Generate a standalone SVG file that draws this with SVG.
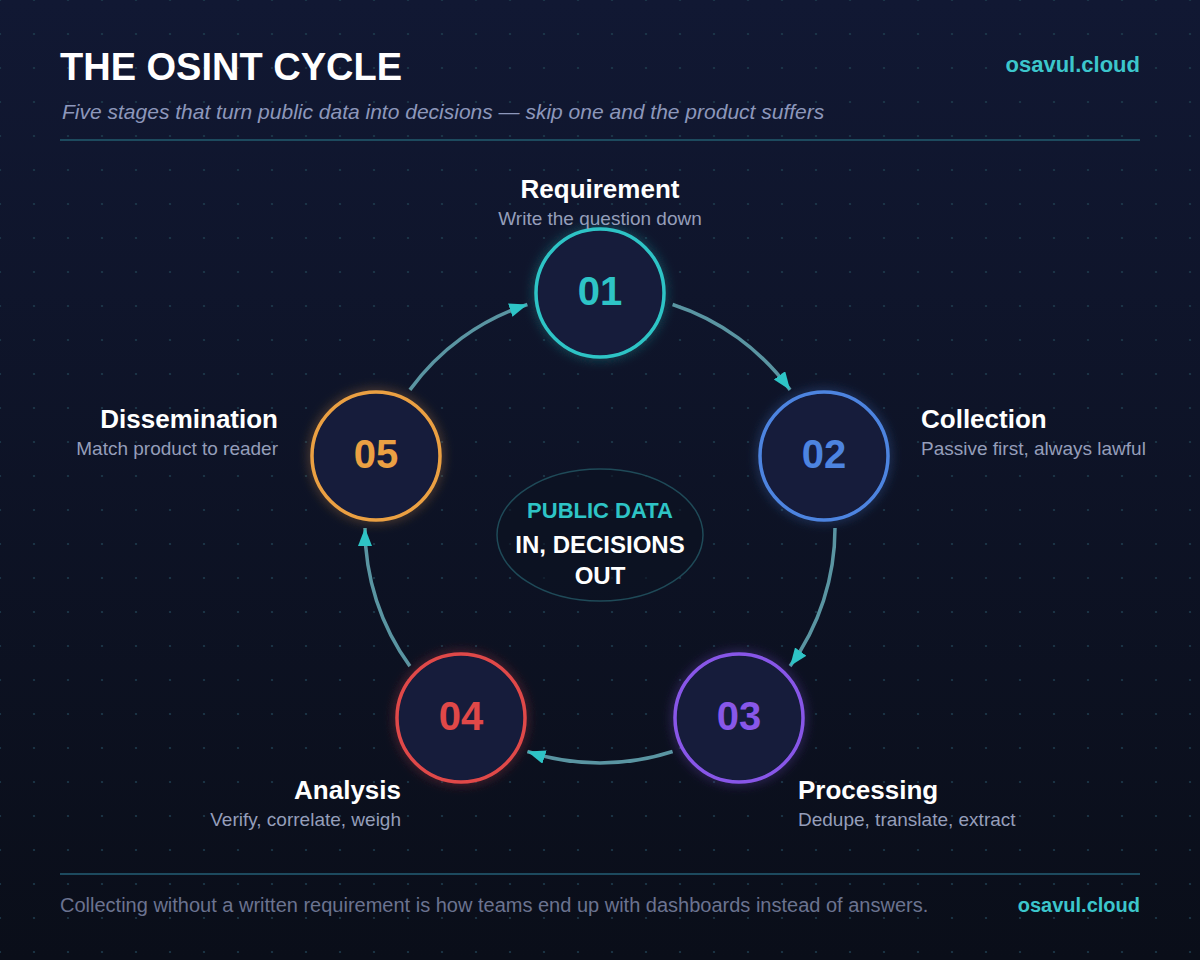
<svg xmlns="http://www.w3.org/2000/svg" width="1200" height="960" viewBox="0 0 1200 960">
<defs>
<linearGradient id="bg" x1="0" y1="0" x2="0" y2="1">
<stop offset="0" stop-color="#111833"/>
<stop offset="1" stop-color="#0a0e19"/>
</linearGradient>
<pattern id="dots" width="34" height="34" patternUnits="userSpaceOnUse">
<circle cx="0" cy="0" r="1.1" fill="#1d3a4c"/>
<circle cx="34" cy="0" r="1.1" fill="#1d3a4c"/>
<circle cx="0" cy="34" r="1.1" fill="#1d3a4c"/>
<circle cx="34" cy="34" r="1.1" fill="#1d3a4c"/>
</pattern>
<filter id="glow" x="-40%" y="-40%" width="180%" height="180%">
<feGaussianBlur in="SourceGraphic" stdDeviation="6" result="b"/>
<feComponentTransfer in="b" result="b2"><feFuncA type="linear" slope="0.5"/></feComponentTransfer>
<feMerge><feMergeNode in="b2"/><feMergeNode in="SourceGraphic"/></feMerge>
</filter>
<marker id="arr" markerUnits="userSpaceOnUse" markerWidth="20" markerHeight="16" refX="18" refY="7" orient="auto">
<path d="M0,0 L18,7 L0,14 z" fill="#2ec4c6"/>
</marker>
<style>
.t{font-family:"Liberation Sans",Arial,sans-serif}
.title{font-size:38px;font-weight:bold;fill:#ffffff}
.brand{font-weight:bold;fill:#3cc6cc}
.sub{font-size:21px;font-style:italic;fill:#8d97bb}
.foot{font-size:20px;fill:#6b7390}
.lbl{font-size:26px;font-weight:bold;fill:#ffffff}
.desc{font-size:19px;fill:#959eba}
.num{font-size:40px;font-weight:bold;text-anchor:middle}
.ring{fill:#141c3b;stroke-width:3.5}
.arc{fill:none;stroke:#5a95a2;stroke-width:3.5;marker-end:url(#arr)}
.rule{stroke:#1d4a5e;stroke-width:2}
</style>
</defs>
<rect width="1200" height="960" fill="url(#bg)"/>
<rect width="1200" height="960" fill="url(#dots)"/>

<g id="header">
<text class="t title" x="60" y="80">THE OSINT CYCLE</text>
<text class="t brand" x="1140" y="72" font-size="22" text-anchor="end">osavul.cloud</text>
<text class="t sub" x="62" y="119">Five stages that turn public data into decisions — skip one and the product suffers</text>
<line class="rule" x1="60" y1="140" x2="1140" y2="140"/>
</g>

<g id="connectors">
<path class="arc" d="M672.6,304.5 A235,235 0 0 1 790.1,389.9"/>
<path class="arc" d="M835,528 A235,235 0 0 1 790.1,666.1"/>
<path class="arc" d="M672.6,751.5 A235,235 0 0 1 527.4,751.5"/>
<path class="arc" d="M409.9,666.1 A235,235 0 0 1 365,528"/>
<path class="arc" d="M409.9,389.9 A235,235 0 0 1 527.4,304.5"/>
</g>

<g id="center">
<ellipse cx="600" cy="535" rx="103" ry="66" fill="#0c1222" fill-opacity="0.6" stroke="#1f4a58" stroke-width="1.5"/>
<text class="t" x="600" y="518" font-size="22" font-weight="bold" fill="#2ec4c6" text-anchor="middle">PUBLIC DATA</text>
<text class="t" x="600" y="553" font-size="24" font-weight="bold" fill="#ffffff" text-anchor="middle">IN, DECISIONS</text>
<text class="t" x="600" y="584" font-size="24" font-weight="bold" fill="#ffffff" text-anchor="middle">OUT</text>
</g>

<g id="node-01">
<circle class="ring" cx="600" cy="293" r="64" stroke="#2ec4c6" filter="url(#glow)"/>
<text class="t num" x="600" y="305" fill="#2ec4c6">01</text>
<text class="t lbl" x="600" y="198" text-anchor="middle">Requirement</text>
<text class="t desc" x="600" y="225" text-anchor="middle">Write the question down</text>
</g>

<g id="node-02">
<circle class="ring" cx="824" cy="456" r="64" stroke="#4d84e0" filter="url(#glow)"/>
<text class="t num" x="824" y="468" fill="#4d84e0">02</text>
<text class="t lbl" x="921" y="428">Collection</text>
<text class="t desc" x="921" y="455">Passive first, always lawful</text>
</g>

<g id="node-03">
<circle class="ring" cx="739" cy="718" r="64" stroke="#8857e8" filter="url(#glow)"/>
<text class="t num" x="739" y="730" fill="#8857e8">03</text>
<text class="t lbl" x="798" y="799">Processing</text>
<text class="t desc" x="798" y="826">Dedupe, translate, extract</text>
</g>

<g id="node-04">
<circle class="ring" cx="461" cy="718" r="64" stroke="#e04848" filter="url(#glow)"/>
<text class="t num" x="461" y="730" fill="#e04848">04</text>
<text class="t lbl" x="401" y="799" text-anchor="end">Analysis</text>
<text class="t desc" x="401" y="826" text-anchor="end">Verify, correlate, weigh</text>
</g>

<g id="node-05">
<circle class="ring" cx="376" cy="456" r="64" stroke="#eba043" filter="url(#glow)"/>
<text class="t num" x="376" y="468" fill="#eba043">05</text>
<text class="t lbl" x="278" y="428" text-anchor="end">Dissemination</text>
<text class="t desc" x="278" y="455" text-anchor="end">Match product to reader</text>
</g>

<g id="footer">
<line class="rule" x1="60" y1="874" x2="1140" y2="874"/>
<text class="t foot" x="60" y="912">Collecting without a written requirement is how teams end up with dashboards instead of answers.</text>
<text class="t brand" x="1140" y="912" font-size="20" text-anchor="end">osavul.cloud</text>
</g>
</svg>
